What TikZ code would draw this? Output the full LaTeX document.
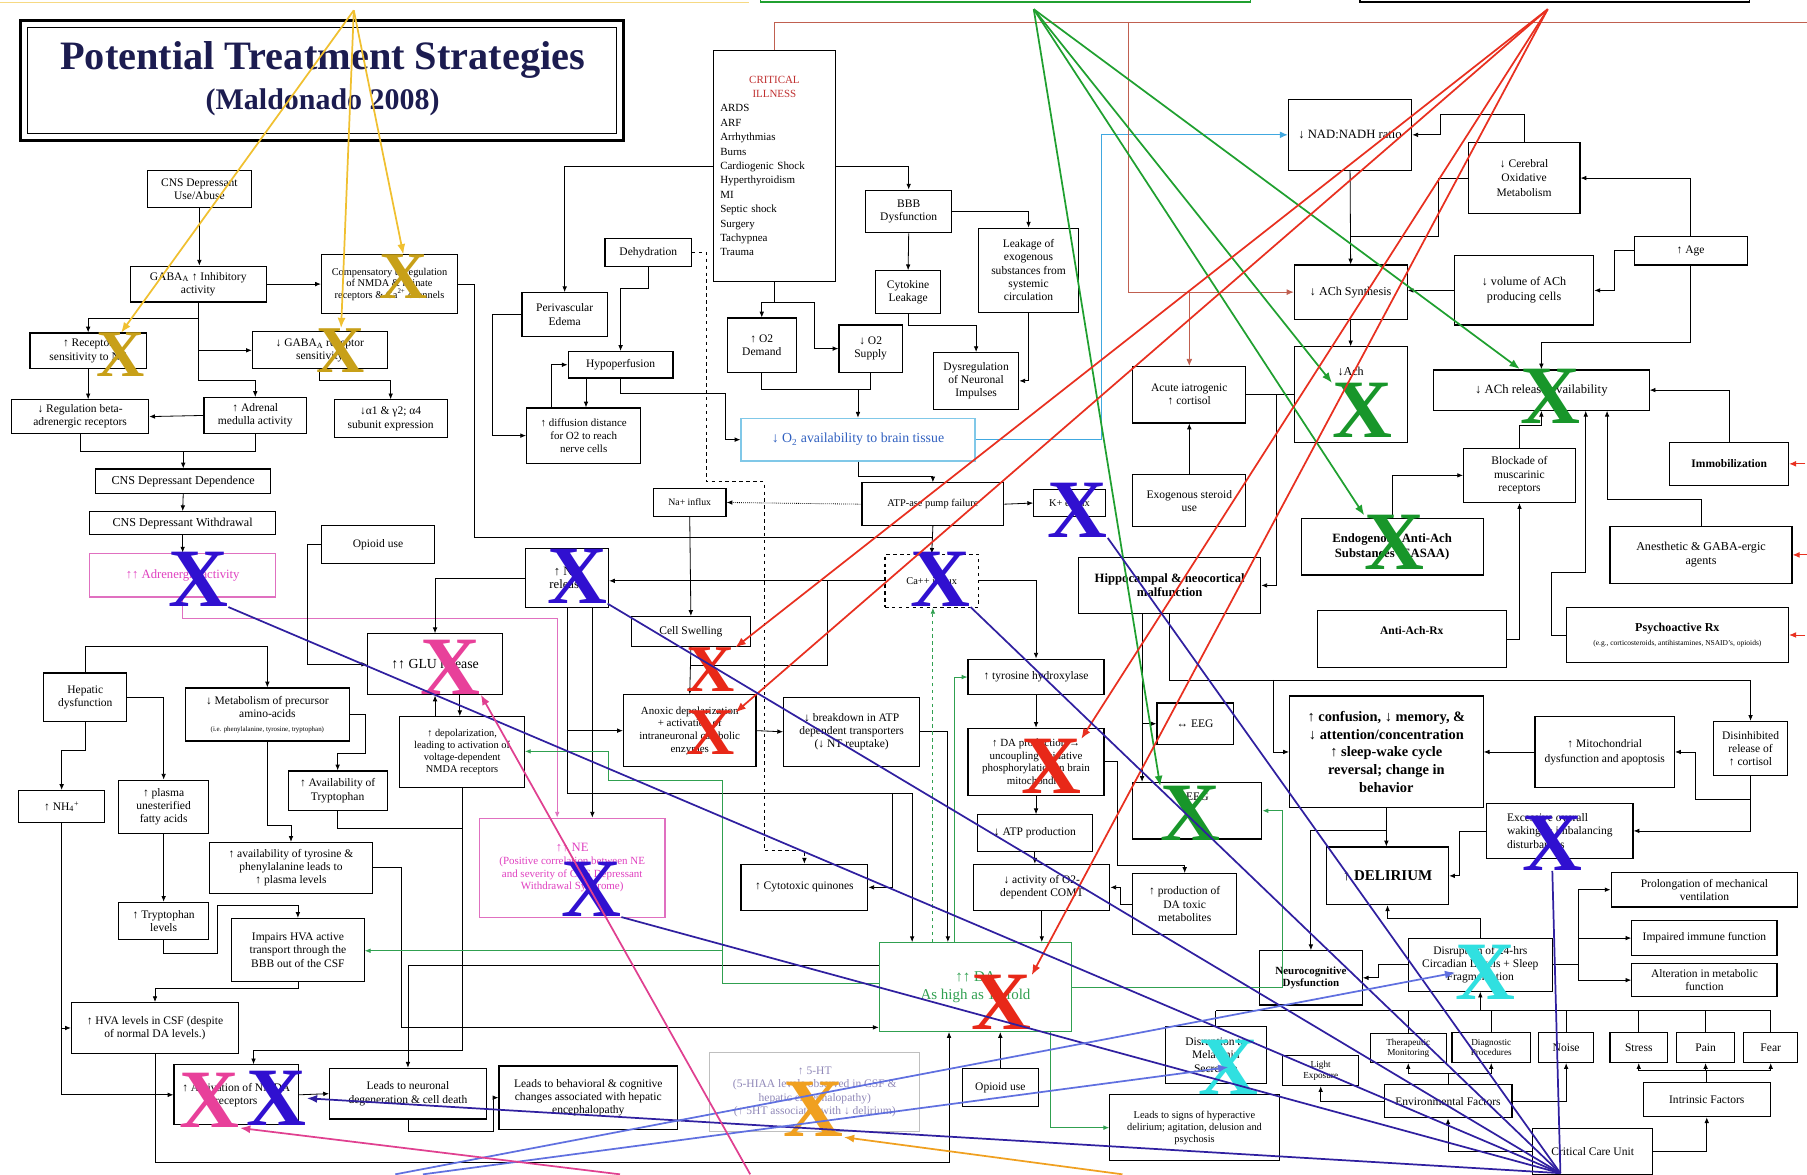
\documentclass[tikz,border=0pt]{standalone}
\usepackage{fontspec}
\setmainfont{Liberation Serif}
\usetikzlibrary{arrows.meta}

\definecolor{navy}{HTML}{1C1C50}
\definecolor{xgold}{HTML}{C8A018}
\definecolor{xblue}{HTML}{3010D0}
\definecolor{xpink}{HTML}{E8409A}
\definecolor{xred}{HTML}{E82818}
\definecolor{xgreen}{HTML}{18962A}
\definecolor{xcyan}{HTML}{30E0E0}
\definecolor{xorange}{HTML}{F0A020}
\definecolor{lyellow}{HTML}{F0C030}
\definecolor{lgreen}{HTML}{20A030}
\definecolor{lred}{HTML}{E83020}
\definecolor{lindigo}{HTML}{3020A0}
\definecolor{lperi}{HTML}{6070E0}
\definecolor{lpink}{HTML}{E04090}
\definecolor{lblue}{HTML}{40A8E0}
\definecolor{brownred}{HTML}{C06050}
\definecolor{pinkline}{HTML}{E070C0}
\definecolor{pinktext}{HTML}{E040C0}
\definecolor{dagreen}{HTML}{30A050}
\definecolor{o2blue}{HTML}{3060C0}
\definecolor{o2border}{HTML}{80C8E8}
\definecolor{htgray}{HTML}{9088B8}
\definecolor{critred}{HTML}{C03030}

\tikzset{
  box/.style={draw, line width=1pt, align=center, inner sep=1pt, font=\fontsize{10}{11.5}\selectfont},
  wh/.style 2 args={minimum width=#1pt, minimum height=#2pt},
  conn/.style={line width=0.7pt},
  arr/.style={line width=0.7pt, -{Latex[length=5pt,width=4pt]}},
  glink/.style={line width=0.7pt, dagreen},
  brline/.style={line width=0.6pt, brownred},
  lbline/.style={line width=1pt, lblue},
  rarrow/.style={line width=0.8pt, lred, -{Latex[length=6pt,width=5pt]}},
  farrow/.style={line width=1.5pt, -{Latex[length=9pt,width=7pt]}},
  bline/.style={line width=1.5pt, lindigo},
  xm/.style={font=\fontsize{72}{72}\selectfont\bfseries, inner sep=0pt, text=#1},
  xsmall/.style={font=\fontsize{58}{58}\selectfont\bfseries}
}

\begin{document}
\begin{tikzpicture}[x=1pt,y=-1pt]
  \fill[white] (0,0) rectangle (1568,1019);
  \useasboundingbox (0,0) rectangle (1568,1019);

  % boxes cut off at the top
  \draw[lyellow!60, line width=1pt] (0,2) -- (650,2);
  \draw[lgreen, line width=1.5pt] (660,-5) rectangle (1085,2);
  \draw[line width=1.5pt] (1180,-5) rectangle (1518,2);

  % title
  \draw[line width=2.2pt] (18,18) rectangle (541,122);
  \draw[line width=0.8pt] (24,24) rectangle (535,116);
  \node[text=navy, font=\fontsize{35}{35}\selectfont\bfseries] (title) at (280,52) {Potential Treatment Strategies};
  \node[text=navy, font=\fontsize{26}{26}\selectfont\bfseries] (subtitle) at (280,89) {(Maldonado 2008)};

  % left column
  \node[box, wh={90}{32}] (cnsuse) at (173,164) {CNS Depressant\\Use/Abuse};
  \node[box, wh={118}{31}] (gabaa) at (172,246.5) {GABA\textsubscript{A} ↑ Inhibitory\\activity};
  \node[box, wh={118}{51}, font=\fontsize{9}{10}\selectfont] (comp) at (338,246.5) {Compensatory upregulation\\of NMDA \& kainate\\receptors \& Ca\textsuperscript{2+} channels};
  \node[box, wh={101}{31}] (recsens) at (76.5,304.5) {↑ Receptor\\sensitivity to NE};
  \node[box, wh={117}{32}] (gabarec) at (277.5,304) {↓ GABA\textsubscript{A} receptor\\sensitivity};
  \node[box, wh={119}{29}] (regbeta) at (69.5,361.5) {↓ Regulation beta-\\adrenergic receptors};
  \node[box, wh={89}{31}] (adrenal) at (221.5,360.5) {↑ Adrenal\\medulla activity};
  \node[box, wh={98}{33}] (alpha) at (339,363.5) {↓α1 \& γ2; α4\\subunit expression};
  \node[box, wh={152}{21}, font=\fontsize{10.5}{12}\selectfont] (cnsdep) at (159,417.5) {CNS Depressant Dependence};
  \node[box, wh={161}{20}, font=\fontsize{10.5}{12}\selectfont] (cnswd) at (158.5,454) {CNS Depressant Withdrawal};
  \node[box, wh={161}{38}, draw=pinkline, text=pinktext, font=\fontsize{11}{12}\selectfont] (adrenerg) at (158.5,499) {↑↑ Adrenergic activity};
  \node[box, wh={98}{33}] (opioid) at (328,472.5) {Opioid use};
  \node[box, wh={72}{51}, font=\fontsize{11}{12}\selectfont] (ntrel) at (492,501.5) {↑ NT\\release};
  \node[box, wh={117}{53}, font=\fontsize{12}{13}\selectfont] (glu) at (377.5,576.5) {↑↑ GLU release};
  \node[box, wh={108}{61}, font=\fontsize{9}{10.5}\selectfont] (depol) at (401,652.5) {↑ depolarization,\\leading to activation of\\voltage-dependent\\NMDA receptors};
  \node[box, wh={72}{42}] (hepatic) at (74,605) {Hepatic\\dysfunction};
  \node[box, wh={142}{46}] (metab) at (232,620) {↓ Metabolism of precursor\\amino-acids\\{\fontsize{6}{7}\selectfont (i.e. phenylalanine, tyrosine, tryptophan)}};
  \node[box, wh={86}{34}] (availtrp) at (293,686) {↑ Availability of\\Tryptophan};
  \node[box, wh={75}{28}] (nh) at (53.5,700) {↑ NH\textsubscript{4}\textsuperscript{+}};
  \node[box, wh={78}{46}] (plasma) at (142,700) {↑ plasma\\unesterified\\fatty acids};
  \node[box, wh={141}{44}] (availtyr) at (252.5,753) {↑ availability of tyrosine \&\\phenylalanine leads to\\↑ plasma levels};
  \node[box, wh={78}{32}] (trplev) at (142,799) {↑ Tryptophan\\levels};
  \node[box, wh={115}{55}] (impairs) at (258.5,824.5) {Impairs HVA active\\transport through the\\BBB out of the CSF};
  \node[box, wh={145}{44}] (hva) at (134.5,892) {↑ HVA levels in CSF (despite\\of normal DA levels.)};
  \node[box, wh={108}{52}] (nmda) at (205,950) {↑ Activation of NMDA\\receptors};
  \node[box, wh={136}{44}] (neurodeg) at (354,949) {Leads to neuronal\\degeneration \& cell death};
  \node[box, wh={155}{55}] (behav) at (510.5,952.5) {Leads to behavioral \& cognitive\\changes associated with hepatic\\encephalopathy};
  \node[box, wh={182}{69}, draw=gray!50, text=htgray] (fiveht) at (707,947.5) {↑ 5-HT\\(5-HIAA levels observed in CSF \&\\hepatic encephalopathy)\\(↑ 5HT associated with ↓ delirium)};
  \node[box, wh={161}{86}, draw=pinkline, text=pinktext, font=\fontsize{9.5}{11}\selectfont] (nebox) at (496.5,753) {{\fontsize{11}{12}\selectfont ↑↑ NE}\\(Positive correlation between NE\\and severity of CNS Depressant\\Withdrawal Syndrome)};

  % middle column
  \node[box, wh={74}{38}] (periv) at (490,273) {Perivascular\\Edema};
  \node[box, wh={75}{24}] (dehyd) at (562.5,219) {Dehydration};
  \node[box, wh={91}{23}] (hypo) at (538.5,316.5) {Hypoperfusion};
  \node[box, wh={99}{48}, font=\fontsize{9.5}{11}\selectfont] (diff) at (506.5,378) {↑ diffusion distance\\for O2 to reach\\nerve cells};
  \node[box, wh={106}{200}, align=left, text width=94pt, font=\fontsize{9.5}{12.5}\selectfont] (crit) at (672,144) {\makebox[94pt]{\textcolor{critred}{CRITICAL}}\\\makebox[94pt]{\textcolor{critred}{ILLNESS}}\\ARDS\\ARF\\Arrhythmias\\Burns\\Cardiogenic Shock\\Hyperthyroidism\\MI\\Septic shock\\Surgery\\Tachypnea\\Trauma};
  \node[box, wh={75}{37}] (bbb) at (788.5,183.5) {BBB\\Dysfunction};
  \node[box, wh={87}{73}] (leak) at (892.5,234.5) {Leakage of\\exogenous\\substances from\\systemic\\circulation};
  \node[box, wh={56}{37}] (cyto) at (788,253.5) {Cytokine\\Leakage};
  \node[box, wh={60}{47}] (demand) at (661,299.5) {↑ O2\\Demand};
  \node[box, wh={55}{41}] (supply) at (755.5,302.5) {↓ O2\\Supply};
  \node[box, wh={74}{49}] (dysreg) at (847,330.5) {Dysregulation\\of Neuronal\\Impulses};
  \node[box, wh={203}{37}, draw=o2border, text=o2blue, font=\fontsize{12}{13}\selectfont] (o2avail) at (744.5,381.5) {↓ O\textsubscript{2} availability to brain tissue};
  \node[box, wh={63}{24}, font=\fontsize{8.5}{9.5}\selectfont] (na) at (598.5,436) {Na+ influx};
  \node[box, wh={123}{37}, font=\fontsize{9}{10}\selectfont] (atpase) at (809.5,437.5) {ATP-ase pump failure};
  \node[box, wh={62}{23}, font=\fontsize{9}{10}\selectfont] (kef) at (928,436.5) {K+ efflux};
  \node[box, wh={81}{46}, dashed, font=\fontsize{9}{10}\selectfont] (ca) at (808.5,504) {Ca++ influx};
  \node[box, wh={103}{26}] (swell) at (599.5,548) {Cell Swelling};
  \node[box, wh={115}{62}, font=\fontsize{9.5}{11}\selectfont] (anoxic) at (598.5,634) {Anoxic depolarization\\+ activation of\\intraneuronal catabolic\\enzymes};
  \node[box, wh={118}{60}] (breakdown) at (739,635) {↓ breakdown in ATP\\dependent transporters\\(↓ NT reuptake)};
  \node[box, wh={118}{31}] (tyr) at (899,587.5) {↑ tyrosine hydroxylase};
  \node[box, wh={118}{58}, font=\fontsize{9.5}{11}\selectfont] (daprod) at (899,661) {↑ DA production →\\uncoupling oxidative\\phosphorylation in brain\\mitochondria};
  \node[box, wh={100}{32}] (atpprod) at (898,723) {↓ ATP production};
  \node[box, wh={118}{40}] (comt) at (904,770) {↓ activity of O2-\\dependent COMT};
  \node[box, wh={90}{53}] (toxic) at (1028,784.5) {↑ production of\\DA toxic\\metabolites};
  \node[box, wh={110}{40}] (cytoq) at (698,770) {↑ Cytotoxic quinones};
  \node[box, wh={167}{77}, draw=dagreen, text=dagreen, font=\fontsize{13}{15}\selectfont] (dahigh) at (846.5,856.5) {↑↑ DA\\As high as 10 fold};
  \node[box, wh={66}{33}] (opioid2) at (868,943.5) {Opioid use};
  \node[box, wh={147}{57}, font=\fontsize{9}{10.5}\selectfont] (hyper) at (1036.5,978.5) {Leads to signs of hyperactive\\delirium; agitation, delusion and\\psychosis};

  % right column
  \node[box, wh={98}{45}] (exog) at (1032,434.5) {Exogenous steroid\\use};
  \node[box, wh={98}{49}] (acute) at (1032,342.5) {Acute iatrogenic\\↑ cortisol};
  \node[box, wh={158}{48}, font=\fontsize{11}{12}\selectfont\bfseries] (hippo) at (1015,508) {Hippocampal \& neocortical\\malfunction};
  \node[box, wh={107}{62}, font=\fontsize{11}{12}\selectfont] (nad) at (1171.5,117) {↓ NAD:NADH ratio};
  \node[box, wh={97}{61}, font=\fontsize{10}{13}\selectfont] (cereb) at (1322.5,154.5) {↓ Cerebral\\Oxidative\\Metabolism};
  \node[box, wh={98}{25}] (age) at (1467,217.5) {↑ Age};
  \node[box, wh={98}{47}, font=\fontsize{10.5}{12}\selectfont] (achsyn) at (1172,253.5) {↓ ACh Synthesis};
  \node[box, wh={121}{60}, font=\fontsize{10.5}{13}\selectfont] (vol) at (1322.5,252) {↓ volume of ACh\\producing cells};
  \node[box, wh={98}{83}, text depth=40pt, font=\fontsize{10.5}{12}\selectfont] (ach) at (1172,342.5) {↓Ach};
  \node[box, wh={187}{35}, font=\fontsize{11}{12}\selectfont] (achrel) at (1337.5,338.5) {↓ ACh release/availability};
  \node[box, wh={97}{47}] (block) at (1318.5,412.5) {Blockade of\\muscarinic\\receptors};
  \node[box, wh={103}{37}, font=\fontsize{10}{11}\selectfont\bfseries] (immob) at (1500.5,402.5) {Immobilization};
  \node[box, wh={158}{49}, font=\fontsize{11}{13}\selectfont\bfseries] (easaa) at (1208,474.5) {Endogenous Anti-Ach\\Substances (EASAA)};
  \node[box, wh={158}{49}, font=\fontsize{10.5}{12}\selectfont] (anes) at (1476,481.5) {Anesthetic \& GABA-ergic\\agents};
  \node[box, wh={164}{49}, text depth=14pt, font=\fontsize{10}{11}\selectfont\bfseries] (antiach) at (1225,554.5) {Anti-Ach-Rx};
  \node[box, wh={193}{48}] (psych) at (1455.5,551) {{\fontsize{10.5}{12}\selectfont\bfseries Psychoactive Rx}\\{\fontsize{6.5}{8}\selectfont (e.g., corticosteroids, antihistamines, NSAID's, opioids)}};
  \node[box, wh={168}{97}, font=\fontsize{12.5}{15.5}\selectfont\bfseries] (conf) at (1203,652.5) {↑ confusion, ↓ memory, \&\\↓ attention/concentration\\↑ sleep-wake cycle\\reversal; change in\\behavior};
  \node[box, wh={121}{61}, font=\fontsize{10}{13}\selectfont] (mito) at (1392.5,652.5) {↑ Mitochondrial\\dysfunction and apoptosis};
  \node[box, wh={64}{47}] (disinh) at (1519,649.5) {Disinhibited\\release of\\↑ cortisol};
  \node[box, wh={66}{36}] (leeg) at (1037,628) {↔ EEG};
  \node[box, wh={112}{49}, text depth=24pt] (eeg) at (1039,703.5) {EEG};
  \node[box, wh={106}{50}, font=\fontsize{13}{14}\selectfont\bfseries] (delir) at (1204,760) {↑ DELIRIUM};
  \node[box, wh={127}{48}, align=left] (exc) at (1353.5,721) {Excessive overall\\waking \& imbalancing\\disturbances};
  \node[box, wh={162}{30}] (prolong) at (1479,772) {Prolongation of mechanical\\ventilation};
  \node[box, wh={126}{30}] (impair) at (1479,814) {Impaired immune function};
  \node[box, wh={126}{29}] (alter) at (1479,850.5) {Alteration in metabolic\\function};
  \node[box, wh={125}{46}] (circ) at (1284.5,837) {Disruption of 24-hrs\\Circadian Levels + Sleep\\Fragmentation};
  \node[box, wh={89}{47}, font=\fontsize{9.5}{11}\selectfont\bfseries] (neuro) at (1137.5,848.5) {Neurocognitive\\Dysfunction};
  \node[box, wh={66}{25}, font=\fontsize{8}{9}\selectfont] (thera) at (1222,909.5) {Therapeutic\\Monitoring};
  \node[box, wh={68}{26}, font=\fontsize{8}{9}\selectfont] (diag) at (1294,909) {Diagnostic\\Procedures};
  \node[box, wh={48}{26}] (noise) at (1359,909) {Noise};
  \node[box, wh={50}{26}] (stress) at (1422,909) {Stress};
  \node[box, wh={50}{26}] (pain) at (1480,909) {Pain};
  \node[box, wh={47}{26}] (fear) at (1536.5,909) {Fear};
  \node[box, wh={66}{26}, font=\fontsize{8}{9}\selectfont] (light) at (1146,929) {Light\\Exposure};
  \node[box, wh={111}{29}] (env) at (1256.5,955.5) {Environmental Factors};
  \node[box, wh={110}{30}] (intr) at (1481,954) {Intrinsic Factors};
  \node[box, wh={104}{40}] (ccu) at (1382,999) {Critical Care Unit};
  \node[box, wh={88}{49}] (melat) at (1055,915.5) {Disruption to\\Melatonin\\Secretion};

  % links, left column
  \draw[arr] (cnsuse.south) -- (cnsuse.south |- gabaa.north);
  \draw[arr] (gabaa.east) -- (comp.west);
  \draw[arr] (gabaa.south) -- ++(0,14) -| (recsens.north);
  \draw[arr] (gabaa.south) |- (gabarec.west);
  \draw[arr] (gabaa.south) -- ++(0,68) -| (adrenal.north);
  \draw[arr] (gabarec.south) -- ++(0,10) -| (alpha.north);
  \draw[conn] (comp.east) -- ++(14,0) |- (atpase.south |- 0,466);
  \draw[arr] (recsens.south) -- (recsens.south |- regbeta.north);
  \draw[arr] (adrenal.west) -- (regbeta.east);
  \coordinate (jdep) at (159,392);
  \draw[conn] (regbeta.south) |- (jdep) -| (adrenal.south);
  \draw[arr] (jdep) -- (cnsdep.north);
  \draw[arr] (cnsdep.south) -- (cnswd.north);
  \draw[arr] (cnswd.south) -- (adrenerg.north);
  \draw[arr, pinkline] (adrenerg.south) -- ++(0,18) -| ([xshift=-13pt]nebox.north);
  \draw[arr] (opioid.west) -- ++(-12,0) |- (glu.west);
  \draw[arr] (ntrel.west) -| (glu.north);
  \draw[arr] (depol.north -| glu.south) -- (glu.south);
  \draw[arr] (glu.south -| 399,0) -- (depol.north -| 399,0);
  \draw[arr] (hepatic.north) -- ++(0,-23) -| (metab.north);
  \draw[arr] (hepatic.south) -- ++(0,25) -| (nh.north);
  \draw[arr] (hepatic.east) -| (plasma.north);
  \draw[arr] (plasma.south) -- (trplev.north);
  \draw[arr] (metab.east) -- ++(14,0) -- ++(0,34) -| (availtrp.north);
  \draw[arr] (metab.south) -- ++(0,73) -| (availtyr.north);
  \draw[arr] (trplev.south) -- ++(0,12) -- ++(47,0) -- ++(0,-42) -| (impairs.north);
  \draw[conn] (availtrp.south) |- (depol.south |- 0,719);
  \draw[arr] (depol.south) -- ++(0,228) -| ([xshift=15pt]nmda.north);
  \draw[arr] (availtyr.east) -- ++(25,0) |- ([yshift=-35pt]dahigh.west);
  \draw[arr] (nh.south) |- (hva.west);
  \draw[arr] (nh.south) |- (nmda.west);
  \draw[arr] (impairs.south) -- ++(0,5) -| (hva.north);
  \draw[arr] (hva.south) -- ++(0,94) -| ([xshift=-23pt]dahigh.south);
  \draw[arr] (nmda.east) -- (neurodeg.west);
  \draw[arr] (neurodeg.south) -- ++(0,10) -| ([xshift=-4pt]behav.west) -- (behav.west);
  \draw[arr] ([yshift=19pt]dahigh.west) -| (neurodeg.north);

  % links, middle column
  \draw[arr] (crit.west) -| (periv.north);
  \draw[arr] (crit.east) -| (bbb.north);
  \draw[arr] (bbb.south) -- (cyto.north);
  \draw[arr] (bbb.east) -| (leak.north);
  \draw[arr] (cyto.south) -- ++(0,10) -| (dysreg.north);
  \draw[arr] (leak.south) |- (dysreg.east);
  \draw[arr] (crit.south) -- ++(0,18) -| (demand.north);
  \draw[arr] (crit.south) -- ++(0,18) -| ([xshift=-21pt]supply.west) -- (supply.west);
  \coordinate (o2j) at (744.5,338);
  \draw[conn] (demand.south) |- (o2j) -| (supply.south);
  \draw[arr] (o2j) -- (o2avail.north);
  \draw[arr] (dehyd.south) -- ++(0,19) -| (hypo.north);
  \draw[arr] (periv.west) -- ++(-25,0) |- (diff.west);
  \draw[arr] ([xshift=-30pt]hypo.south) -- ([xshift=-30pt]hypo.south |- diff.north);
  \draw[arr] ([xshift=-28pt]diff.north) |- (hypo.west);
  \draw[arr] (hypo.south) -- ++(0,13) -| ([xshift=-13pt]o2avail.west) -- (o2avail.west);
  \draw[arr, dashed] (dehyd.east) -- (613,219) -- (613,418) -- (663,418) -- (663,738) -| (cytoq.north);
  \draw[arr] (o2avail.south) -- ++(0,13) -| (atpase.north);
  \draw[lbline, -{Latex[length=7pt,width=6pt]}] (o2avail.east) -- ++(109,0) |- (nad.west);
  \draw[arr, densely dotted] (atpase.west) -- (na.east);
  \draw[arr] (atpase.east) -- (kef.west);
  \draw[arr] (atpase.south) -- (ca.north);
  \draw[arr] (na.south) -- (swell.north);
  \draw[arr] (swell.south) -- (anoxic.north);
  \draw[arr] (ca.west) -- (ca.west -| ntrel.east);
  \draw[conn] (718,504) |- (599,577);
  \draw[arr] (ca.east) -| (tyr.north);
  \draw[arr] (tyr.south) -- (daprod.north);
  \draw[arr] (daprod.south) -- (daprod.south |- atpprod.north);
  \draw[arr] (atpprod.south) -- (atpprod.south |- comt.north);
  \draw[arr] (comt.south) -- (comt.south |- dahigh.north);
  \draw[arr] (toxic.west) -- ++(-10,0) |- (comt.east);
  \draw[arr] (daprod.east) -- ++(11,0) -- ++(0,90) -| (toxic.north);
  \draw[arr] (ntrel.south) -- ++(0,161) -| ([xshift=-55pt]dahigh.north);
  \draw[arr] (ntrel.south |- anoxic.west) -- (anoxic.west);
  \draw[arr] ([xshift=22pt]ntrel.south) -- ([xshift=22pt]ntrel.south |- nebox.north);
  \draw[arr] (anoxic.east) -- (breakdown.west);
  \draw[arr] (breakdown.east) -| ([xshift=-24pt]dahigh.north);
  \draw[arr] (774,688) |- (cytoq.east);
  \draw[arr] (opioid2.north) -- (opioid2.north |- dahigh.south);
  \draw[glink, -{Latex[length=5pt,width=4pt]}] ([xshift=65pt]dahigh.south) |- (hyper.west);
  \draw[glink, -{Latex[length=5pt,width=4pt]}] ([xshift=-18pt]dahigh.north) |- (tyr.west);
  \draw[glink, dashed, -{Latex[length=5pt,width=4pt]}] ([xshift=-37pt]dahigh.north) -- ([xshift=-37pt]dahigh.north |- ca.south);
  \draw[glink, -{Latex[length=5pt,width=4pt]}] (dahigh.east) -- ++(182,0) |- (eeg.east);
  \draw[glink, -{Latex[length=5pt,width=4pt]}] ([yshift=3pt]dahigh.west) -| (627,677) -| (528,652) -- (depol.east |- 0,652);
  \draw[glink, -{Latex[length=5pt,width=4pt]}] (627,825) -- (impairs.east |- 0,825);

  % links, right column
  \draw[arr] (exog.north) -- (acute.south);
  \draw[conn] (acute.east) -- (ach.west);
  \draw[arr] (1108,342.5) |- (hippo.east);
  \draw[brline] (crit.north) |- (1568,19);
  \draw[brline, -{Latex[length=6pt,width=5pt]}] (979,19) |- (achsyn.west);
  \draw[brline, -{Latex[length=6pt,width=5pt]}] (acute.north |- achsyn.west) -- (acute.north);
  \draw[arr] (nad.south) -- (achsyn.north);
  \draw[conn] (cereb.west) -- ++(-25,0) |- (nad.south |- 0,205);
  \draw[arr] (cereb.north) -- ++(0,-24) -| ([xshift=24pt]nad.east) -- (nad.east);
  \draw[arr] (age.north) |- (cereb.east);
  \draw[arr] (age.west) -- ++(-17,0) |- (vol.east);
  \draw[arr] (vol.west) -- (vol.west -| achsyn.east);
  \draw[arr] (age.south) -- ++(0,67) -| (achrel.north);
  \draw[arr] (achsyn.south) -- (ach.north);
  \draw[arr] (immob.north) |- (achrel.east);
  \draw[arr] (block.north) -- ++(0,-19) -| (achrel.south);
  \draw[arr] (anes.north) -- ++(0,-23) -| ([xshift=57pt]achrel.south);
  \draw[arr] (psych.west) -- ++(-12,0) |- (1376,497) -- ([xshift=38.5pt]achrel.south);
  \draw[arr] (easaa.north) |- (block.west);
  \draw[arr] (antiach.east) -| (block.south);
  \foreach \n in {immob,anes,psych}
    \draw[rarrow] ([xshift=14pt]\n.east) -- (\n.east);
  \coordinate (hline) at (1519,590);
  \draw[arr] (hippo.south) |- (hline) -- (disinh.north);
  \draw[arr] (1105,590) |- (conf.west);
  \draw[arr] ([xshift=-24pt]hippo.south) -- ([xshift=-24pt]hippo.south |- eeg.north);
  \draw[arr] (991,628) -- (leeg.west);
  \draw[arr] (mito.west) -- (conf.east);
  \draw[arr] (disinh.south) -- ++(0,20) -| ([xshift=18pt]mito.east) -- (mito.east);
  \draw[arr] (disinh.south) |- (exc.east);
  \draw[arr] (conf.south) -- (conf.south |- delir.north);
  \draw[arr] (exc.west) -- ++(-23,0) |- (delir.east);
  \draw[arr] (circ.north) -- ++(0,-17) -| (delir.south);
  \draw[arr] (circ.west) -- ++(-25,0) |- (neuro.east);
  \draw[arr] ([yshift=-19pt]conf.south) -| (neuro.north);
  \coordinate (jc) at (1370,837);
  \draw[conn] (circ.east) -- (jc);
  \foreach \n in {prolong,impair,alter}
    \draw[arr] (jc) |- (\n.west);
  \coordinate (fl) at (1055,877);
  \coordinate (fr) at (1537,877);
  \draw[conn] (fl) -- (fr);
  \foreach \n in {thera,diag,noise,stress,pain,fear,melat}
    \draw[conn] (\n.north) -- (\n.north |- fl);
  \draw[arr] (circ.south |- fl) -- (circ.south);
  \coordinate (je) at (1256.5,931);
  \draw[conn] (env.north) -- (je);
  \draw[arr] (je) -| (thera.south);
  \draw[arr] (je) -| (diag.south);
  \draw[arr] (env.west) -| (light.south);
  \draw[arr] (env.east) -| (noise.south);
  \draw[arr] (ccu.west) -| (env.south);
  \draw[arr] (ccu.east) -| (intr.south);
  \coordinate (ji) at (1481,929);
  \draw[conn] (intr.north) -- (ji);
  \foreach \n in {stress,pain,fear}
    \draw[arr] (ji) -| (\n.south);

  % X marks
  \node[xm=xgold, xsmall] (xg1) at (105,308) {X};
  \node[xm=xgold, xsmall] (xg2) at (296,304) {X};
  \node[xm=xgold, xsmall] (xg3) at (350,240) {X};
  \node[xm=xblue] (xb1) at (172,503) {X};
  \node[xm=xblue] (xb2) at (501,500) {X};
  \node[xm=xblue] (xb3) at (816,503) {X};
  \node[xm=xblue] (xb4) at (935,443) {X};
  \node[xm=xblue] (xb5) at (513,772) {X};
  \node[xm=xblue] (xbn) at (240,953) {X};
  \node[xm=xblue] (xbe) at (1347,732) {X};
  \node[xm=xpink] (xp1) at (391,579) {X};
  \node[xm=xpink] (xp2) at (182,955) {X};
  \node[xm=xred, xsmall] (xr1) at (617,581) {X};
  \node[xm=xred, xsmall] (xr2) at (617,636) {X};
  \node[xm=xred] (xr3) at (912,665) {X};
  \node[xm=xred] (xr4) at (869,870) {X};
  \node[xm=xgreen] (xgr1) at (1345,344) {X};
  \node[xm=xgreen] (xgr2) at (1182,356) {X};
  \node[xm=xgreen] (xgr3) at (1210,471) {X};
  \node[xm=xgreen] (xgr4) at (1033,706) {X};
  \node[xm=xcyan] (xc1) at (1289,844) {X};
  \node[xm=xcyan] (xc2) at (1066,926) {X};
  \node[xm=xorange] (xo) at (706,963) {X};

  % strategy arrows
  \coordinate (ysrc) at (307,9);
  \foreach \t in {xg1,xg2,xg3}
    \draw[farrow, lyellow] (ysrc) -- (\t.north);
  \coordinate (gsrc) at (897,8);
  \foreach \t in {xgr1,xgr2,xgr3,xgr4}
    \draw[farrow, lgreen] (gsrc) -- (\t.north west);
  \coordinate (rsrc) at (1343,8);
  \draw[farrow, lred] (rsrc) -- (xr1.north east);
  \draw[farrow, lred] (rsrc) -- (xr2.40);
  \draw[farrow, lred] (rsrc) -- (xr3.north east);
  \draw[farrow, lred] (rsrc) -- (xr4.north east);
  \coordinate (bsrc) at (1354,1018);
  \foreach \t in {xb1,xb2,xb3,xb4,xb5}
    \draw[bline] (bsrc) -- (\t.south east);
  \draw[bline] (bsrc) -- (xbe.south);
  \draw[farrow, lindigo] (bsrc) -- (xbn.east);
  \coordinate (psrc1) at (343,1019);
  \coordinate (psrc2) at (367,1019);
  \draw[farrow, lperi] (psrc1) -- (xc1.west);
  \draw[farrow, lperi] (psrc2) -- (xc2.center);
  \coordinate (pksrc1) at (651,1019);
  \coordinate (pksrc2) at (538,1019);
  \draw[farrow, lpink] (pksrc1) -- (xp1.south east);
  \draw[farrow, lpink] (pksrc2) -- (xp2.south east);
  \coordinate (osrc) at (974,1019);
  \draw[farrow, xorange] (osrc) -- (xo.south east);
\end{tikzpicture}
\end{document}
